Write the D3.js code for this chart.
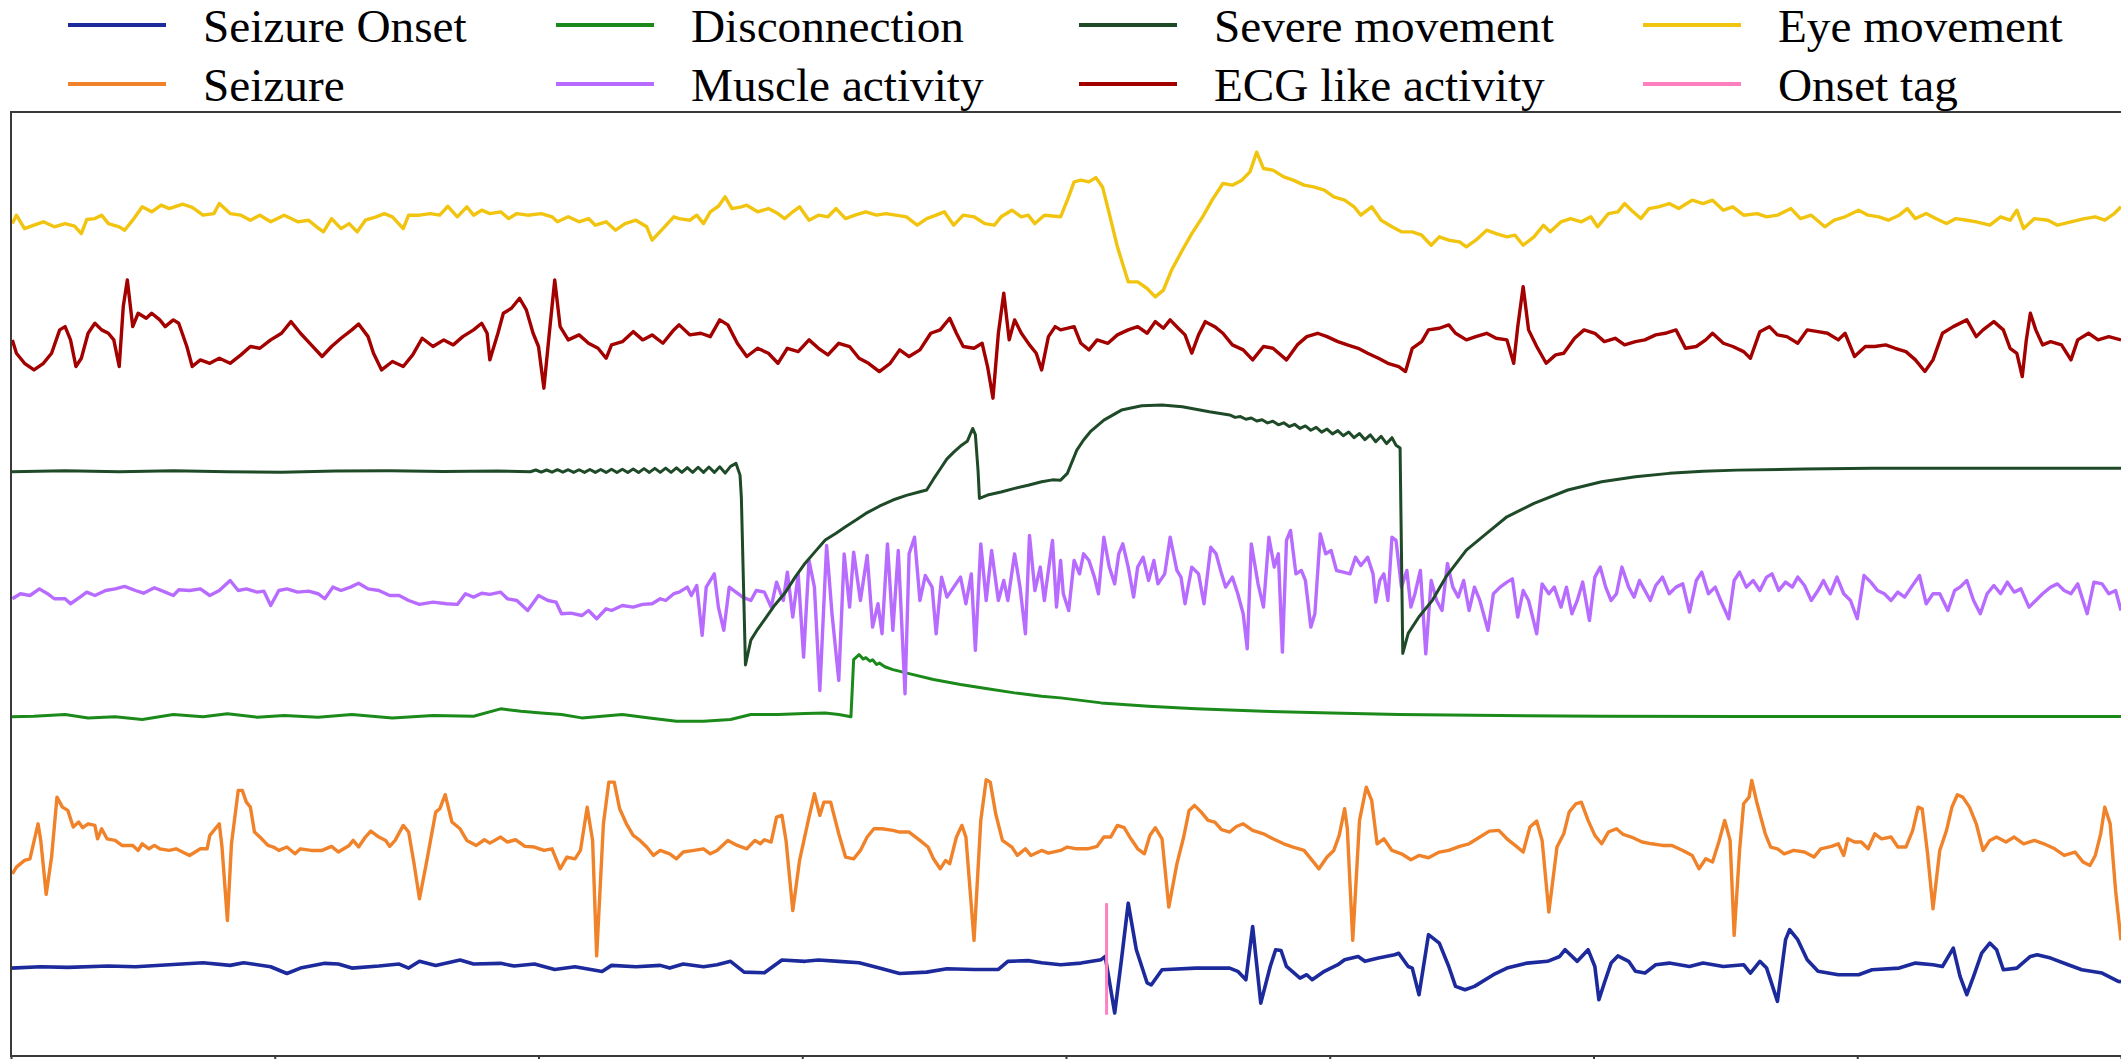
<!DOCTYPE html>
<html><head><meta charset="utf-8">
<script src="https://cdn.jsdelivr.net/npm/d3@7"></script>
<style>html,body{margin:0;padding:0;background:#fff;overflow:hidden}svg{display:block}</style>
</head><body><svg id="chart" width="2121" height="1059"></svg>
<script>
// ---- data (x: sample index at 97.5 Hz, y: amplitude in display units, positive up) ----
const legendLabels = ["Seizure Onset","Seizure","Disconnection","Muscle activity","Severe movement","ECG like activity","Eye movement","Onset tag"];
const seriesColors = ["#1c2a9c","#f0822a","#1b8a1b","#b86cff","#1e4a28","#a30000","#f1c40f","#ff80c0"];
const channelOffsets = [66, 152, 251, 342, 432.5, 528, 618];
const xTicks = [0,195,390,585,780,975,1170,1365,1560];
const xDomain = [0, 1560];
const yDomain = [0, 698];

const seizureOnset = [[0,-1],[22,0],[42,-0.5],[72,0.5],[92,0],[117,1.5],[142,3],[162,1],[172,3],[192,0],[204,-5],[214,-1],[232,2.5],[242,2],[252,-1],[272,0.5],[287,2],[294,-1],[302,4],[314,1],[332,5],[342,2],[362,2.5],[372,0.5],[387,2],[402,-2],[417,0],[437,-3.5],[444,1],[462,0],[480,1],[487,-1],[497,2],[512,0],[522,1.5],[532,4],[542,-4],[557,-4.5],[570,5],[587,4],[597,5],[612,4],[627,3],[642,-1],[657,-5],[677,-4],[692,-1.5],[712,-2],[730,-2],[737,4],[752,4.5],[762,3],[776,1.5],[791,2.7],[806,5.2],[809,7.6],[816,-34.2],[821,5.2],[826,47],[832,12.6],[840,-12],[843,-13.5],[851,-2.2],[876,-1],[901,-1],[907,-3.4],[913,-9.6],[918,29.8],[924,-26.9],[931,0.2],[935,12.6],[939,12],[943,0.2],[953,-8.4],[958,-5.9],[962,-9.6],[971,-3.4],[981,1.5],[986,5.2],[996,7.6],[1001,4],[1011,6.4],[1023,8.9],[1026,10],[1033,0.2],[1036,-1],[1041,-20.7],[1048,23.7],[1056,17.5],[1063,0.2],[1068,-14.5],[1075,-17],[1082,-14.5],[1096,-5.9],[1106,-1],[1121,2.7],[1136,4],[1145,7.6],[1149,12.6],[1158,4],[1166,12.6],[1171,0.2],[1174,-24.4],[1178,-12],[1183,2.7],[1188,8],[1196,4],[1201,-3.4],[1208,-4.7],[1216,1.5],[1226,2.7],[1241,0.2],[1251,2.7],[1266,0.2],[1281,1.5],[1286,-4.7],[1293,4],[1298,-1],[1306,-25.6],[1312,20],[1315,27.4],[1321,20],[1328,5.2],[1336,-3.4],[1351,-5.9],[1366,-5.9],[1376,-2.2],[1396,-1],[1408,2.7],[1421,1.5],[1428,0.2],[1436,13.8],[1441,-7.1],[1446,-20.7],[1451,-7.1],[1457,10],[1463,17.5],[1468,12.6],[1473,-2.2],[1483,-1],[1493,7.6],[1498,8.9],[1508,6.4],[1521,1.5],[1531,-2.2],[1546,-4.7],[1558,-10.8],[1560,-11]];

const seizure = [[1,-17.3],[4,-12.3],[10,-7.4],[14,-6.2],[20,19.7],[22,7.4],[26,-32.5],[30,-4.9],[34,39.4],[38,32],[42,29.6],[46,17.3],[50,21],[53,16.8],[57,19.7],[62,18.5],[64,8.6],[67,16],[71,8.6],[77,7.4],[82,3.7],[90,3.7],[94,0],[97,4.9],[102,1.2],[106,3.7],[110,1.2],[117,0],[122,1.2],[132,-3.7],[140,1.2],[145,1.2],[147,11.1],[154,19.7],[156,2.5],[160,-51.8],[163,4.9],[168,44.4],[171,44.4],[174,35.7],[177,32],[180,13.6],[184,9.9],[190,3.7],[194,2.5],[198,0],[204,2.5],[210,-2.5],[214,1.2],[222,0],[230,0],[237,3],[242,-1.2],[250,3.7],[253,7.4],[257,2.5],[262,9.9],[266,14.3],[272,9.9],[277,7.4],[280,3],[284,7.4],[290,18.5],[294,13.6],[298,-9.9],[302,-35.7],[307,-9.9],[314,28.3],[317,30.8],[321,41.2],[326,21],[332,16],[337,7.4],[344,3.7],[350,7.9],[354,5.4],[362,9.9],[367,6.2],[373,7.9],[380,3],[387,2.5],[394,0],[400,1.2],[403,-6.2],[406,-13.6],[411,-4.9],[417,-6.2],[421,0],[426,32],[430,7.4],[433,-78],[438,19.7],[442,50.5],[446,50.5],[450,30.8],[455,19.7],[460,11.1],[465,7.4],[470,2.5],[475,-3.7],[480,0],[487,-2.5],[492,-6.2],[497,-1.2],[505,0],[512,1.2],[517,-2.5],[522,0],[530,7.4],[537,3.7],[544,1.2],[550,7.4],[554,4.9],[557,7.9],[562,6.2],[566,24.6],[570,25.9],[573,7.4],[578,-44.4],[583,-7.4],[590,24.6],[594,41.9],[598,25.9],[601,35.7],[606,35.7],[612,12.3],[617,-4.9],[623,-6.2],[628,0],[633,9.9],[638,16],[644,16],[652,14.8],[657,13.6],[664,13.6],[672,7.4],[678,2.5],[682,-6.2],[687,-13.6],[691,-7.4],[694,-9.9],[699,9.9],[703,18.5],[706,9.9],[712,-66.5],[717,22.2],[721,52.2],[724,50.5],[728,27.1],[733,7.4],[740,2.5],[744,-3.7],[750,1.2],[754,-3.7],[762,0],[767,-2],[776,0],[781,2.5],[788,1.2],[796,1.2],[803,3],[808,9.9],[813,9.9],[818,18.5],[823,16.8],[828,8.6],[833,1.2],[838,-2.5],[842,11.1],[846,16.8],[851,8.6],[856,-41.9],[862,-9.9],[867,9.9],[871,29.6],[875,33.3],[880,28.3],[885,22.2],[890,21],[895,15.3],[901,13.6],[906,17.7],[911,19.7],[918,14.8],[926,12.3],[933,8.6],[941,4.9],[948,2.5],[956,0],[962,-7.4],[967,-13.6],[973,-4.9],[978,0],[982,11.1],[986,30.8],[988,16],[992,-66.5],[997,22.2],[1002,46.8],[1006,37],[1010,4.9],[1015,8.6],[1021,0],[1028,-2.5],[1035,-6.9],[1041,-3.7],[1048,-5.4],[1056,-1.2],[1063,0],[1071,3],[1078,4.9],[1086,9.9],[1093,14.3],[1100,14.8],[1106,8.6],[1113,3],[1118,-1.2],[1123,17.3],[1128,21.7],[1132,7.4],[1137,-45.6],[1143,2.5],[1148,12.3],[1152,28.3],[1157,34.5],[1161,35.7],[1166,22.2],[1171,11.1],[1176,4.9],[1181,13.6],[1187,16],[1192,11.8],[1198,9.9],[1206,6.2],[1213,4.9],[1221,3.7],[1228,3.7],[1236,0],[1243,-3.7],[1248,-13.6],[1253,-6.2],[1258,-8.6],[1263,7.4],[1267,22.2],[1271,7.4],[1274,-62.8],[1278,0],[1281,34.5],[1285,39.4],[1287,51.7],[1291,34.5],[1297,12.3],[1301,2.5],[1306,1.2],[1311,-2.5],[1318,0],[1326,-1.2],[1333,-4.9],[1338,1.2],[1346,3],[1351,4.9],[1355,-3.7],[1358,8.6],[1363,6.2],[1368,6.2],[1373,1.2],[1378,12.3],[1383,8.6],[1390,9.9],[1395,2.5],[1401,2.5],[1406,14.8],[1410,32],[1413,30.8],[1417,-2.5],[1421,-43.1],[1426,0],[1431,14.8],[1435,32],[1439,41.2],[1443,39.4],[1448,32],[1453,19.7],[1458,0],[1463,7.4],[1468,9.9],[1475,6.2],[1481,9.9],[1488,4.9],[1496,7.4],[1503,4.9],[1511,1.2],[1518,-3.7],[1526,-1.2],[1532,-8.6],[1537,-11.1],[1541,-3.7],[1545,12.3],[1548,32],[1552,19.7],[1556,-29.6],[1560,-66.5]];

const disconnection = [[0,-0.2],[17,0.2],[40,1.5],[57,-1],[77,-0.2],[97,-2.2],[120,1.5],[142,-0.2],[160,2],[182,-0.5],[202,0.7],[227,-0.5],[252,1.5],[282,-1],[312,0.7],[342,0.2],[362,5.7],[377,3.9],[392,2.7],[407,1.5],[422,-1],[437,0.2],[452,1.5],[472,-1],[492,-3.4],[512,-3.4],[532,-2.2],[547,1.5],[567,1.5],[587,2.2],[602,2.7],[612,1.5],[621,-0.2],[623,42.1],[627,45.8],[630,42.5],[632,43.5],[635,40.9],[637,42],[640,38.5],[642,39.5],[646,36.8],[652,34.7],[667,31],[682,27.4],[702,23.7],[722,20.5],[742,17.5],[762,15],[776,13.8],[806,10.1],[841,7.6],[876,5.7],[926,3.9],[976,2.7],[1026,1.5],[1101,0.7],[1176,0.2],[1276,0],[1560,0]];

const muscle = [[1,-3.9],[7,-0.2],[14,-1.5],[21,3.4],[27,-0.2],[32,-3.9],[40,-3.9],[44,-7.6],[51,-2.7],[56,1],[62,-1.5],[70,2.2],[77,3.4],[84,5.2],[92,2.2],[98,0.2],[106,4.2],[114,1],[120,-1.5],[124,2.7],[132,2.2],[140,3.4],[147,-1.5],[154,2.2],[162,9.6],[168,2.2],[174,3.4],[182,1],[187,1.7],[192,-8.9],[198,2.2],[204,3.4],[212,1],[220,1.7],[227,-0.2],[232,-3.9],[238,4.7],[244,2.2],[251,4.7],[257,7.6],[264,3.4],[272,2.2],[280,-1.5],[287,-1.5],[294,-5.2],[302,-8.1],[312,-6.4],[322,-7.6],[330,-8.1],[336,-0.2],[342,-2.7],[348,0.2],[354,-0.7],[362,1],[367,-3.9],[374,-5.2],[382,-12.6],[390,-1.5],[397,-5.2],[403,-6.4],[407,-15],[414,-14.5],[422,-16.3],[427,-12.6],[433,-18.7],[440,-11.3],[444,-12.6],[452,-8.9],[460,-10.1],[467,-8.1],[474,-7.6],[480,-3.9],[484,-5.2],[490,-0.2],[494,1],[500,4.7],[503,-1.5],[507,5.9],[511,-31],[514,4.7],[520,14.5],[523,-10.1],[527,-27.3],[531,4.7],[536,1],[541,-2.7],[547,-5.2],[551,2.2],[557,1],[562,-10.1],[566,8.4],[571,-5.2],[574,15.8],[578,-17.5],[582,14.5],[586,-47.1],[590,24.4],[594,4.7],[598,-71.7],[603,35.5],[607,-15],[612,-64.3],[616,29.3],[620,-10.1],[623,30.6],[628,-5.2],[633,28.1],[637,-24.9],[641,-7.6],[644,-29.8],[648,36.7],[652,-27.3],[656,31.8],[661,-74.2],[664,29.3],[668,41.6],[672,-5.2],[676,13.3],[681,4.7],[684,-29.8],[688,12.1],[692,-2.7],[697,4.7],[702,12.1],[706,-7.6],[710,14.5],[713,-42.1],[717,36.7],[721,-5.2],[725,31.8],[730,-5.2],[734,9.6],[737,-5.2],[742,29.3],[746,4.7],[750,-29.8],[753,42.9],[757,2.2],[761,19.5],[764,-5.2],[770,39.2],[773,-10.1],[776,24.4],[778,-0.2],[782,-12.6],[786,24.4],[790,14.5],[793,29.3],[797,24.4],[801,12.1],[804,-0.2],[808,41.6],[812,19.5],[816,7.1],[819,29.3],[822,36.7],[826,19.5],[830,-2.7],[833,19.5],[837,26.8],[841,9.6],[845,24.4],[848,7.1],[853,14.5],[857,41.6],[862,17],[865,12.1],[868,-7.6],[873,19.5],[878,14.5],[882,-7.6],[887,34.2],[891,29.3],[895,14.5],[898,4.7],[903,12.1],[907,-0.2],[911,-15],[914,-40.9],[917,36.7],[922,7.1],[926,-10.1],[930,41.6],[934,19.5],[937,29.3],[940,-43.4],[943,39.2],[946,46.6],[950,14.5],[954,17],[957,9.6],[961,-24.9],[964,-15],[968,44.1],[972,29.3],[976,31.8],[980,17],[985,15.8],[990,14.5],[994,26.8],[998,20.7],[1003,26.8],[1007,14.5],[1009,-6.4],[1012,9.6],[1015,14.5],[1018,-5.2],[1021,41.6],[1024,39.2],[1028,4.7],[1032,17],[1035,-10.1],[1038,-0.2],[1042,17],[1046,-44.6],[1050,9.6],[1054,-5.2],[1058,-12.6],[1062,22.2],[1066,4.7],[1070,-2.7],[1074,9.6],[1078,-12.6],[1082,4.7],[1086,-5.2],[1092,-27.3],[1096,-0.2],[1101,4.7],[1106,8.4],[1110,10.8],[1114,-17.5],[1118,2.2],[1122,-5.2],[1128,-29.8],[1132,7.1],[1137,-0.2],[1141,4.7],[1146,-10.1],[1150,4.7],[1154,-15],[1158,-5.2],[1162,8.4],[1167,-20],[1171,12.1],[1175,19.5],[1179,4.7],[1183,-5.2],[1187,-0.2],[1191,19.5],[1196,4.7],[1200,-2.7],[1204,9.6],[1208,2.2],[1212,-5.2],[1216,5.9],[1221,12.1],[1226,-0.2],[1231,4.7],[1236,7.1],[1241,-13.8],[1246,9.6],[1250,15.8],[1255,-0.2],[1260,4.7],[1264,-5.2],[1270,-18.7],[1274,9.6],[1278,15.8],[1283,4.7],[1288,9.6],[1293,2.2],[1298,12.1],[1302,14.5],[1307,2.2],[1312,8.4],[1317,4.7],[1321,12.1],[1326,5.9],[1331,-5.2],[1336,2.2],[1340,9.6],[1345,-0.2],[1350,12.1],[1355,-0.2],[1360,-5.2],[1365,-18.7],[1370,13.3],[1375,8.4],[1380,2.2],[1385,-0.2],[1390,-5.2],[1395,1],[1400,-2.7],[1405,4.7],[1411,13.3],[1416,-7.6],[1421,-0.2],[1426,-0.2],[1432,-12.6],[1437,2.2],[1441,4.7],[1446,9.6],[1451,-5.2],[1456,-15],[1461,-0.2],[1466,5.9],[1471,-0.2],[1476,8.4],[1481,1],[1486,3.4],[1492,-10.1],[1497,-5.2],[1502,-0.2],[1508,4.7],[1513,7.1],[1518,2.2],[1523,-0.2],[1528,7.1],[1535,-15],[1540,8.4],[1546,7.1],[1551,-0.2],[1556,2.2],[1560,-12.6]];

const severeMovement = [[0,-0.5],[40,0.3],[80,-0.5],[120,0.3],[160,-0.5],[200,-0.8],[240,0],[280,0.2],[320,-0.3],[360,0],[384,-0.5],[388,0.8],[392,-0.8],[396,0.8],[400,-0.8],[404,1],[408,-0.8],[412,1],[416,-1],[420,1],[424,-1],[428,1.2],[432,-1],[436,1.2],[440,-1],[444,1.4],[448,-1],[452,1.4],[456,-1],[460,1.6],[464,-1],[468,1.8],[472,-1],[476,2],[480,-1],[484,2.2],[488,-1],[492,2.4],[496,-1],[500,2.6],[504,-1],[508,2.8],[512,-1],[516,3],[520,-1],[524,3.2],[528,-1.5],[532,3.5],[536,5.7],[539,-3],[540,-20],[543,-143.4],[547,-125],[552,-117],[557,-110],[564,-100],[572,-90.4],[580,-78],[587,-68.3],[595,-59],[602,-51],[610,-46],[617,-41.1],[625,-36],[632,-31.3],[642,-26],[652,-21.4],[662,-18],[672,-15.3],[677,-14],[682,-6],[688,3],[692,9],[697,14],[702,18.5],[707,22],[711,31.5],[713,27],[715,0],[716,-20.2],[722,-17.7],[732,-15.5],[742,-12.8],[752,-10.5],[762,-7.9],[770,-6.5],[776,-6.7],[781,-1.7],[788,15.5],[793,23],[798,29.1],[808,37.7],[821,45.1],[836,48.3],[851,48.8],[866,47.6],[886,43.9],[901,41.5],[905,39.7],[909,40.3],[913,38.3],[917,39.2],[921,37],[925,38],[929,35.6],[933,36.9],[937,34.2],[941,35.7],[945,32.9],[949,34.6],[953,31.5],[957,33.4],[961,30.2],[965,32.3],[969,28.8],[973,31.1],[977,27.5],[981,29.9],[985,26.1],[989,28.9],[993,24.7],[997,27.8],[1001,23.2],[1005,26.8],[1009,21.7],[1013,25.7],[1017,20.3],[1021,24.7],[1024,19.1],[1027,17],[1029,-134.8],[1033,-120],[1041,-107.7],[1051,-95.4],[1061,-78.1],[1076,-58.4],[1091,-46.1],[1106,-33.8],[1126,-23.9],[1151,-14],[1176,-7.9],[1201,-4.2],[1226,-1.7],[1251,-0.2],[1276,0.7],[1326,1.5],[1376,2],[1476,2],[1560,2]];

const ecgLike = [[1,1.5],[4,-8.4],[10,-15.8],[17,-20.7],[24,-15.8],[30,-8.4],[36,8.9],[40,11.3],[44,1.5],[48,-18.2],[52,-12.1],[57,6.4],[62,13.8],[67,8.9],[72,6.4],[76,1.5],[80,-18.2],[83,26.1],[86,45.8],[90,11.3],[94,21.2],[100,17.5],[104,21.2],[110,16.3],[114,11.3],[120,16.3],[124,13.8],[130,-3.4],[134,-18.2],[140,-13.3],[147,-15.8],[154,-12.1],[162,-15.8],[170,-9.6],[177,-3.4],[184,-4.7],[192,1.5],[200,6.4],[207,15],[214,6.4],[222,-2.2],[230,-10.8],[237,-3.4],[244,2.7],[252,8.9],[257,13.3],[264,3.9],[268,-8.4],[274,-20.7],[282,-14.5],[290,-18.2],[297,-9.6],[304,2.7],[312,-3.4],[320,1.5],[327,-2.2],[334,3.9],[342,8.9],[348,13.8],[352,6.4],[354,-13.3],[360,6.4],[364,21.2],[370,24.9],[376,32.3],[381,23.7],[386,6.4],[390,-3.4],[394,-34.2],[398,6.4],[402,45.8],[406,11.3],[412,1.5],[420,5.2],[427,-1],[434,-4.7],[440,-12.1],[444,-2.2],[452,0.2],[460,7.6],[467,1.5],[474,5.2],[482,-1],[490,8.9],[494,12.6],[502,5.2],[510,6.4],[517,3.9],[524,16.3],[530,12.6],[537,-1],[544,-10.8],[552,-4.7],[560,-8.4],[567,-15.8],[574,-4.7],[582,-7.2],[590,1.5],[597,-4.7],[604,-9.6],[612,-1],[620,-3.4],[627,-12.1],[634,-15.8],[642,-21.9],[650,-15.8],[657,-5.9],[664,-10.8],[672,-5.9],[680,6.4],[687,8.9],[694,17.5],[699,6.4],[704,-3.4],[712,-4.7],[718,-1],[722,-18.2],[726,-41.6],[730,6.4],[734,36],[738,1.5],[742,16.3],[747,6.4],[753,-2.2],[758,-8.4],[762,-20.7],[767,3.9],[772,11.3],[776,8.9],[786,11.3],[791,-1],[797,-5.9],[803,1.5],[811,-1],[818,5.2],[826,8.9],[833,11.3],[840,6.4],[846,15],[852,10.1],[857,16.3],[863,10.1],[868,5.2],[873,-8.4],[878,5.2],[883,15],[890,11.3],[896,6.4],[903,-2.2],[911,-5.9],[918,-13.3],[926,-3.4],[933,-4.7],[943,-13.3],[951,-2.2],[958,3.9],[966,6.4],[973,3.9],[981,0.2],[988,-2.2],[996,-4.7],[1003,-8.4],[1011,-12.1],[1018,-15.8],[1026,-18.2],[1031,-21.9],[1036,-4.7],[1043,0.2],[1048,8.9],[1056,10.1],[1063,12.6],[1068,6.4],[1076,1.5],[1083,3.9],[1091,6.4],[1098,2.7],[1106,1.5],[1111,-15.8],[1114,11.3],[1118,40.9],[1122,8.9],[1128,-3.4],[1135,-15.8],[1142,-9.6],[1148,-8.4],[1156,2.7],[1163,8.9],[1171,6.4],[1178,0.2],[1186,2.7],[1193,-2.2],[1201,0.2],[1208,1.5],[1216,5.2],[1223,6.4],[1231,8.9],[1238,-4.7],[1246,-3.4],[1253,1.5],[1258,6.4],[1266,-1],[1273,-3.4],[1281,-7.2],[1286,-12.1],[1293,7.6],[1300,11.3],[1306,5.2],[1313,3.9],[1321,-1],[1328,8.9],[1336,7.6],[1343,6.4],[1351,1.5],[1356,6.4],[1363,-10.8],[1371,-3.4],[1378,-3.4],[1386,-2.2],[1393,-4.7],[1401,-7.2],[1408,-13.3],[1415,-21.9],[1421,-13.3],[1428,6.4],[1436,11.3],[1446,16.3],[1453,3.9],[1458,8.9],[1466,15],[1473,8.9],[1478,-4.7],[1483,-8.4],[1487,-25.6],[1490,1.5],[1493,21.2],[1497,8.9],[1502,-2.2],[1508,0.2],[1516,-2.2],[1523,-13.3],[1528,1.5],[1536,6.4],[1543,1.5],[1551,3.9],[1560,1.5]];

const eyeMovement = [[1,-2.5],[4,3.7],[10,-6.2],[17,-3.7],[24,-1.2],[32,-4.9],[40,-2.5],[47,-4.4],[52,-9.9],[56,0.5],[62,1.2],[67,3.7],[72,-2.5],[80,-4.9],[84,-7.4],[90,0],[97,9.9],[104,6.2],[111,11.1],[117,8.6],[127,11.8],[134,9.4],[142,3.7],[150,4.9],[154,12.3],[162,4.9],[170,3.7],[177,0],[184,3.7],[192,-1.2],[202,3.7],[212,-1.2],[220,0],[226,-4.9],[231,-8.6],[237,1.2],[244,-6.2],[250,-2.5],[256,-8.6],[262,0],[270,2.5],[276,4.9],[282,2.5],[290,-6.2],[294,3.7],[302,3.7],[310,4.9],[317,3.7],[323,10.3],[330,2.5],[337,9.9],[342,3.7],[348,7.4],[354,4.9],[362,6.2],[368,1.2],[374,4.9],[382,3.7],[392,4.9],[400,2.5],[404,-1.2],[412,2.5],[420,-1.2],[427,1.2],[432,-3.7],[440,-1.2],[447,-7.4],[454,-2.5],[462,0],[470,-4.9],[474,-14.8],[482,-6.2],[490,2.5],[494,1.2],[502,0],[507,3.7],[512,-2.5],[517,6.2],[523,10.3],[528,17.3],[533,8.6],[540,9.9],[544,11.1],[552,6.2],[560,8.6],[567,4.9],[572,1.2],[578,6.2],[583,9.9],[590,0],[597,3.7],[604,2.5],[610,8.6],[617,1.2],[624,3.7],[632,6.2],[640,3.7],[647,4.9],[654,3.7],[662,2.5],[670,-3.7],[677,1.2],[684,3.7],[690,6.2],[697,-3.7],[704,3.7],[712,2.5],[720,-2.5],[727,-3.7],[732,2.5],[740,7.4],[747,2.5],[752,3.7],[757,-2.5],[764,3.7],[776,2.5],[781,14.8],[786,28.3],[791,29.6],[797,28.3],[802,31.5],[807,24.6],[812,4.9],[818,-19.7],[826,-45.6],[833,-45.6],[840,-50.5],[846,-56.7],[852,-51.7],[858,-37],[866,-22.2],[873,-9.9],[881,2.5],[888,14.8],[896,27.1],[903,25.9],[910,29.6],[916,35.7],[921,50.3],[926,38.2],[933,37],[941,32],[948,29.6],[956,25.9],[963,24.6],[971,22.2],[978,17.3],[986,14.8],[993,9.9],[998,3.7],[1006,9.9],[1013,0],[1021,-4.9],[1028,-8.6],[1036,-8.6],[1043,-11.1],[1050,-18.5],[1056,-12.3],[1063,-14.8],[1071,-16],[1076,-19.7],[1083,-14.8],[1091,-7.4],[1098,-9.9],[1106,-12.3],[1112,-11.1],[1118,-18.5],[1126,-12.3],[1133,-3.7],[1138,-8.6],[1146,-1.2],[1153,1.2],[1161,-1.2],[1168,2.5],[1173,-4.9],[1181,4.9],[1188,6.2],[1193,12.3],[1198,7.4],[1205,1.2],[1211,8.6],[1218,9.9],[1226,12.3],[1233,8.6],[1243,14.8],[1251,12.3],[1258,14.8],[1266,7.4],[1273,9.9],[1281,3.7],[1291,4.9],[1298,2.5],[1306,3.7],[1316,8.6],[1323,1.2],[1331,3.7],[1341,-4.9],[1348,0],[1356,2.5],[1366,7.4],[1373,3.7],[1381,2.5],[1388,0],[1396,3.7],[1402,8.6],[1408,1.2],[1416,4.9],[1423,1.2],[1431,-2.5],[1438,1.2],[1446,0],[1453,-1.2],[1463,-3.7],[1471,2.5],[1478,0],[1483,7.4],[1488,-6.2],[1496,1.2],[1506,0],[1513,-3.7],[1523,-1.2],[1533,1.2],[1541,2.5],[1548,0],[1555,4.9],[1560,9.9]];

const onsetTag = [[810,-35.5],[810,47]];

// ---- drawing ----
const W = 2121, H = 1059;
const plot = {left: 11, right: 2121, top: 112, bottom: 1056};
const strokeWidths = [3.6, 3.4, 3, 3.4, 3, 3.4, 3.4];
const svg = d3.select("#chart");
svg.append("rect").attr("width", W).attr("height", H).attr("fill", "#fff");

const x = d3.scaleLinear().domain(xDomain).range([plot.left, plot.right]);
const y = d3.scaleLinear().domain(yDomain).range([plot.bottom, plot.top]);

svg.append("clipPath").attr("id", "plotclip").append("rect")
  .attr("x", plot.left).attr("y", plot.top).attr("width", plot.right - plot.left).attr("height", plot.bottom - plot.top);

const traces = [seizureOnset, seizure, disconnection, muscle, severeMovement, ecgLike, eyeMovement];
const g = svg.append("g").attr("clip-path", "url(#plotclip)");
traces.forEach((data, i) => {
  const line = d3.line().x(d => x(d[0])).y(d => y(d[1] + channelOffsets[i]));
  g.append("path").datum(data).attr("d", line).attr("fill", "none")
    .attr("stroke", seriesColors[i]).attr("stroke-width", strokeWidths[i])
    .attr("stroke-linejoin", "round").attr("stroke-linecap", "butt");
});
// onset tag (plotted on the Seizure Onset channel)
g.append("path").datum(onsetTag)
  .attr("d", d3.line().x(d => x(d[0])).y(d => y(d[1] + channelOffsets[0])))
  .attr("fill", "none").attr("stroke", seriesColors[7]).attr("stroke-width", 3);

// axes frame
const axisColor = "#3a3a3a";
const xAxis = d3.axisBottom(x).tickValues(xTicks).tickSize(10).tickFormat(() => "");
const ax = svg.append("g").attr("transform", `translate(0,${plot.bottom})`).call(xAxis);
ax.select(".domain").remove();
ax.selectAll(".tick line").attr("stroke", axisColor).attr("stroke-width", 2);
svg.append("rect").attr("x", plot.left).attr("y", plot.top)
  .attr("width", plot.right - plot.left + 4).attr("height", plot.bottom - plot.top)
  .attr("fill", "none").attr("stroke", axisColor).attr("stroke-width", 2);

// legend (4 columns, filled column-wise)
const legendCols = [203, 691, 1214, 1778];
const legendRows = [42, 101];
const legend = svg.append("g");
legendLabels.forEach((lab, i) => {
  const c = Math.floor(i / 2), r = i % 2;
  const tx = legendCols[c], ty = legendRows[r];
  legend.append("line").attr("x1", tx - 135).attr("x2", tx - 37)
    .attr("y1", ty - 17).attr("y2", ty - 17)
    .attr("stroke", seriesColors[i]).attr("stroke-width", 4);
  legend.append("text")
    .attr("transform", `translate(${tx},${ty}) scale(1.05,1.03)`)
    .attr("font-family", "'Liberation Serif', 'Times New Roman', serif")
    .attr("font-size", 45).attr("fill", "#000").text(lab);
});
</script></body></html>
